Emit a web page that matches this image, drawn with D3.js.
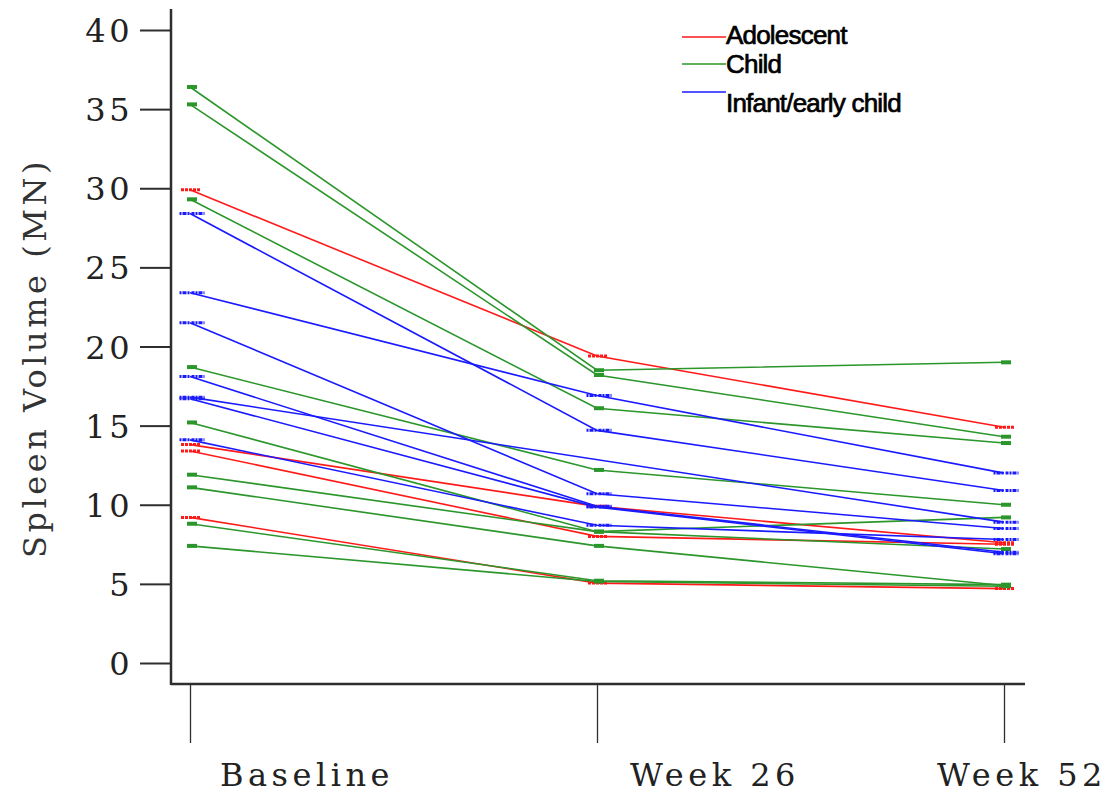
<!DOCTYPE html>
<html>
<head>
<meta charset="utf-8">
<script src="https://cdn.jsdelivr.net/npm/d3@7"></script>
<style>
  html, body { margin: 0; padding: 0; background: #fff; }
  svg { display: block; }
</style>
</head>
<body>
<svg id="chart" width="1111" height="794"></svg>
<script>
// Visit labels along the x axis
const categories = ["Baseline", "Week 26", "Week 52"];

// Y axis ticks
const yTicks = [0, 5, 10, 15, 20, 25, 30, 35, 40];

// Spleen volume (multiples of normal) per subject: [Baseline, Week 26, Week 52]
const adolescent = [
  [29.9, 19.4, 14.9],
  [13.8, 9.9, 7.6],
  [13.4, 8.0, 7.5],
  [9.2, 5.05, 4.7]
];

const child = [
  [36.4, 18.5, 19.0],
  [35.3, 18.2, 14.3],
  [29.3, 16.1, 13.9],
  [18.7, 12.2, 10.0],
  [15.2, 8.3, 9.2],
  [11.9, 8.3, 7.2],
  [11.1, 7.4, 4.9],
  [8.8, 5.2, 4.95],
  [7.4, 5.15, 4.85]
];

const infant = [
  [28.4, 14.7, 10.9],
  [23.4, 16.9, 12.0],
  [21.5, 10.7, 8.5],
  [18.1, 9.9, 7.0],
  [16.8, null, 8.9],
  [16.7, 9.85, 6.9],
  [14.1, 8.7, 7.8]
];

const groupNames = ["Adolescent", "Child", "Infant/early child"];

const groups = [
  { name: groupNames[0], color: "#ff1a1a", rows: adolescent, mark: { w: 20, dx: 1, h: 3, dash: "3,1" } },
  { name: groupNames[1], color: "#2b962b", rows: child,      mark: { w: 10, dx: 2, h: 4, dash: null } },
  { name: groupNames[2], color: "#1a1aff", rows: infant,     mark: { w: 25, dx: 2, h: 3, dash: "2,1,4,1,2,2,3,1" } }
];

const svg = d3.select("#chart");
const axisColor = "#2e2e2e";
const serif = "'DejaVu Serif', serif";

const x = d3.scalePoint().domain(categories).range([190, 1004]);
const y = d3.scaleLinear().domain([0, 40]).range([663, 30]);

// Axis frame
const axisLeftX = 171, axisBottomY = 684;
svg.append("line")
  .attr("x1", axisLeftX).attr("x2", axisLeftX)
  .attr("y1", 9).attr("y2", axisBottomY + 1)
  .attr("stroke", axisColor).attr("stroke-width", 2.5);
svg.append("line")
  .attr("x1", axisLeftX).attr("x2", 1025)
  .attr("y1", axisBottomY).attr("y2", axisBottomY)
  .attr("stroke", axisColor).attr("stroke-width", 2.5);

// Y axis ticks and labels
const yAxis = d3.axisLeft(y).tickValues(yTicks).tickSize(31).tickPadding(10).tickFormat(d3.format("d"));
const gy = svg.append("g").attr("transform", `translate(${axisLeftX},0)`).call(yAxis);
gy.select(".domain").remove();
gy.selectAll(".tick line").attr("stroke", axisColor).attr("stroke-width", 2);
gy.selectAll(".tick text")
  .attr("fill", "#222")
  .style("font-family", serif)
  .style("font-size", "32px")
  .style("letter-spacing", "3.5px")
  .attr("dy", "0.36em")
  .attr("x", -38);

// X axis ticks and labels
const xAxis = d3.axisBottom(x).tickSize(59).tickFormat("");
const gx = svg.append("g").attr("transform", `translate(0,${axisBottomY})`).call(xAxis);
gx.select(".domain").remove();
gx.selectAll(".tick line").attr("stroke", axisColor).attr("stroke-width", 1.3);

const labelShift = [30, 33, -67];
svg.append("g").selectAll("text")
  .data(categories)
  .join("text")
  .attr("x", (d, i) => x(d) + labelShift[i])
  .attr("y", 786)
  .attr("fill", "#222")
  .style("font-family", serif)
  .style("font-size", "32px")
  .style("letter-spacing", "4.5px")
  .text(d => d);

// Y axis title
svg.append("text")
  .attr("transform", "translate(46,358) rotate(-90)")
  .attr("text-anchor", "middle")
  .attr("fill", "#333")
  .style("font-family", serif)
  .style("font-size", "32px")
  .style("letter-spacing", "3.5px")
  .text("Spleen Volume (MN)");

// Subject profiles
const line = d3.line().x(d => x(d.cat)).y(d => y(d.v));

groups.forEach(g => {
  const gg = svg.append("g");
  g.rows.forEach(row => {
    const pts = row.map((v, i) => ({ cat: categories[i], v })).filter(p => p.v != null);
    gg.append("path")
      .attr("d", line(pts))
      .attr("fill", "none")
      .attr("stroke", g.color)
      .attr("stroke-width", 1.6);
    gg.selectAll(null)
      .data(pts)
      .join("line")
      .attr("x1", p => x(p.cat) - g.mark.w / 2 + g.mark.dx)
      .attr("x2", p => x(p.cat) + g.mark.w / 2 + g.mark.dx)
      .attr("y1", p => y(p.v))
      .attr("y2", p => y(p.v))
      .attr("stroke", g.color)
      .attr("stroke-width", g.mark.h)
      .attr("stroke-dasharray", g.mark.dash);
  });
});

// Legend
const legendY = [37, 64, 92];
const legendTextY = [44, 73, 112];
const lg = svg.append("g");
groups.forEach((g, i) => {
  lg.append("line")
    .attr("x1", 682).attr("x2", 726)
    .attr("y1", legendY[i]).attr("y2", legendY[i])
    .attr("stroke", g.color).attr("stroke-width", 1.6);
  lg.append("text")
    .attr("x", 726)
    .attr("y", legendTextY[i])
    .attr("fill", "#000")
    .attr("stroke", "#000")
    .attr("stroke-width", 0.7)
    .style("font-family", "'Liberation Sans', Arial, sans-serif")
    .style("font-size", "26px")
    .style("letter-spacing", "-0.8px")
    .text(g.name);
});
</script>
</body>
</html>
